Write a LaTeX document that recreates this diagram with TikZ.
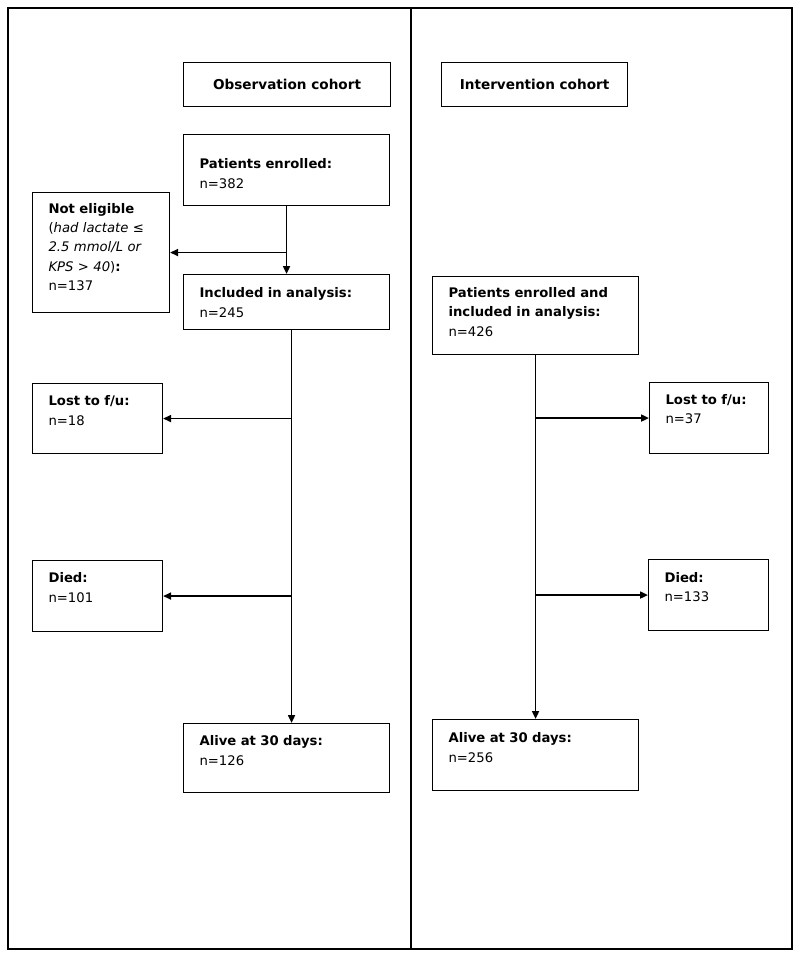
\documentclass[tikz,border=0pt]{standalone}
\usepackage{fontspec}
\setmainfont{DejaVu Sans}
\usepackage{tikz}
\usetikzlibrary{arrows.meta, positioning}

\begin{document}
\begin{tikzpicture}[
    x=1pt, y=-1pt,
    font=\fontsize{13.2}{19.5}\selectfont,
    flowbox/.style={draw, line width=1.1pt, anchor=north west, align=left, inner xsep=16pt, inner ysep=0pt},
    headbox/.style={draw, line width=1.1pt, anchor=north west, align=center, inner sep=0pt, font=\fontsize{13.6}{19}\selectfont\bfseries},
    flow/.style={line width=1.8pt, -{Triangle[length=8pt, width=7pt]}},
    ]

    \useasboundingbox (0,0) rectangle (800,959);

    % frame and divider
    \draw[line width=1.2pt] (8,8) rectangle (792,949);
    \draw[line width=1.2pt] (411,8) -- (411,949);

    % cohort headers
    \node[headbox, minimum width=207pt, minimum height=44pt] (obshead) at (183,62) {Observation cohort};
    \node[headbox, minimum width=186pt, minimum height=44pt] (inthead) at (441,62) {Intervention cohort};

    % observation cohort
    \node[flowbox, text width=174pt, text height=34pt, text depth=37pt] (obsenr) at (183,134)
        {\textbf{Patients enrolled:}\\n=382};
    \node[flowbox, text width=105pt, text height=21pt, text depth=99pt] (noteli) at (32,192)
        {\textbf{Not eligible}\\[-1pt](\textit{had lactate ≤}\\\textit{2.5 mmol/L or}\\\textit{KPS > 40})\textbf{:}\\n=137};
    \node[flowbox, text width=174pt, text height=23pt, text depth=32pt] (obsinc) at (183,274)
        {\textbf{Included in analysis:}\\n=245};
    \node[flowbox, text width=98pt, text height=22pt, text depth=48pt] (obslost) at (32,383)
        {\textbf{Lost to f/u:}\\n=18};
    \node[flowbox, text width=98pt, text height=22pt, text depth=49pt] (obsdied) at (32,560)
        {\textbf{Died:}\\n=101};
    \node[flowbox, text width=174pt, text height=22pt, text depth=47pt] (obsalive) at (183,723)
        {\textbf{Alive at 30 days:}\\n=126};

    % intervention cohort
    \node[flowbox, text width=174pt, text height=21pt, text depth=57pt] (intenr) at (432,276)
        {\textbf{Patients enrolled and}\\[-1pt]\textbf{included in analysis:}\\[1pt]n=426};
    \node[flowbox, text width=87pt, text height=22pt, text depth=49pt] (intlost) at (649,382)
        {\textbf{Lost to f/u:}\\[-1pt]n=37};
    \node[flowbox, text width=88pt, text height=23pt, text depth=48pt] (intdied) at (648,559)
        {\textbf{Died:}\\[-1pt]n=133};
    \node[flowbox, text width=174pt, text height=23pt, text depth=48pt] (intalive) at (432,719)
        {\textbf{Alive at 30 days:}\\n=256};

    % observation arrows
    \draw[flow] (obsenr.south) -- (obsenr.south |- obsinc.north);
    \draw[flow] (obsenr.south |- noteli.east) -- (noteli.east);
    \coordinate (obstrunk) at ([xshift=5pt]obsinc.south);
    \draw[flow] (obstrunk) -- (obstrunk |- obsalive.north);
    \draw[flow] (obstrunk |- obslost.east) -- (obslost.east);
    \draw[flow] (obstrunk |- obsdied.east) -- (obsdied.east);

    % intervention arrows
    \draw[flow] (intenr.south) -- (intenr.south |- intalive.north);
    \draw[flow] (intenr.south |- intlost.west) -- (intlost.west);
    \draw[flow] (intenr.south |- intdied.west) -- (intdied.west);
\end{tikzpicture}
\end{document}
